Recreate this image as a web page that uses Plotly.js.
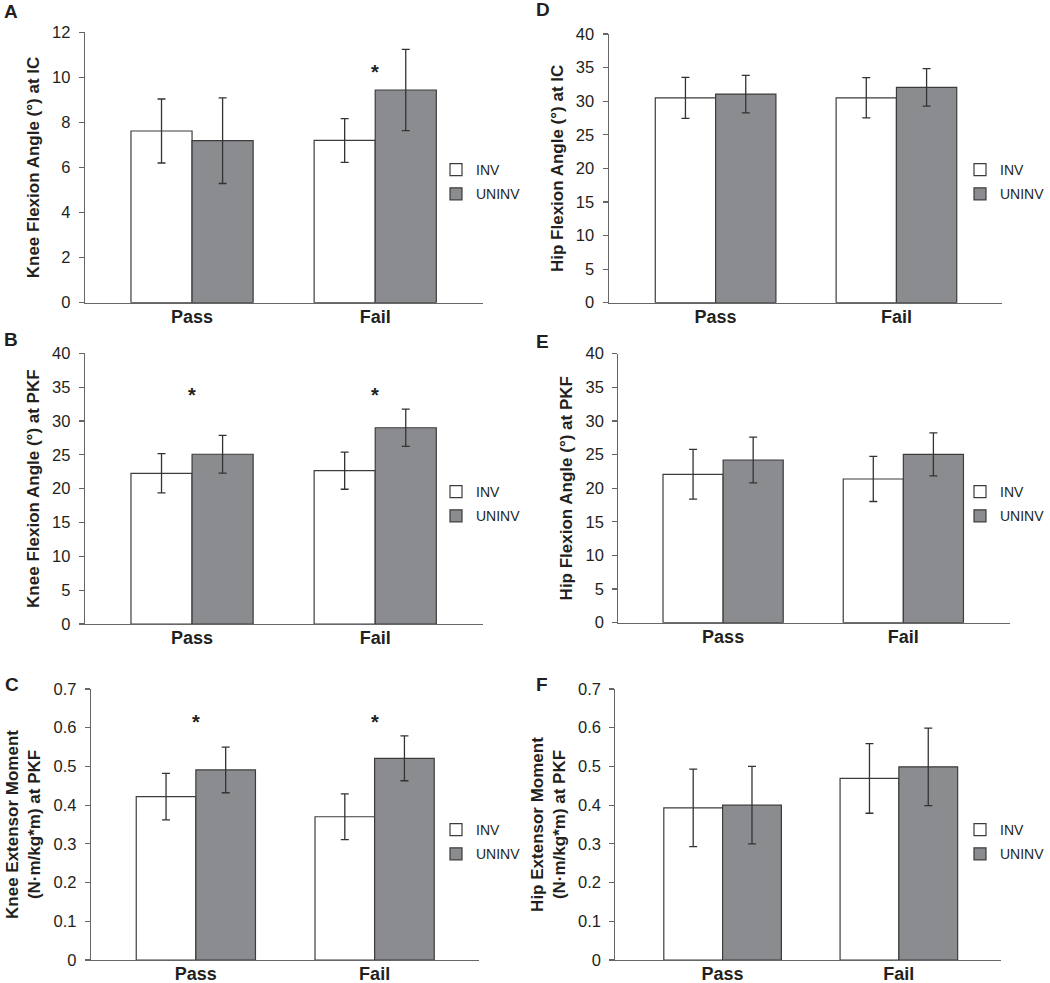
<!DOCTYPE html>
<html><head><meta charset="utf-8">
<script src="https://cdn.plot.ly/plotly-3.0.1.min.js"></script>
<style>html,body{margin:0;padding:0;background:#fff}</style>
</head><body><div id="chart" style="width:1050px;height:983px"></div>
<script>
// ---- data ----
const groups = ['Pass', 'Fail'];
const seriesNames = ['INV', 'UNINV'];

// A: Knee flexion angle at IC
const kneeIC_INV = [7.62, 7.2];
const kneeIC_INV_sd = [1.42, 0.97];
const kneeIC_UNINV = [7.19, 9.44];
const kneeIC_UNINV_sd = [1.9, 1.8];
const kneeIC_sig = ['Fail'];

// B: Knee flexion angle at PKF
const kneePKF_INV = [22.27, 22.66];
const kneePKF_INV_sd = [2.9, 2.75];
const kneePKF_UNINV = [25.08, 29.0];
const kneePKF_UNINV_sd = [2.8, 2.75];
const kneePKF_sig = ['Pass', 'Fail'];

// C: Knee extensor moment at PKF
const kneeMom_INV = [0.422, 0.370];
const kneeMom_INV_sd = [0.060, 0.059];
const kneeMom_UNINV = [0.491, 0.521];
const kneeMom_UNINV_sd = [0.059, 0.058];
const kneeMom_sig = ['Pass', 'Fail'];

// D: Hip flexion angle at IC
const hipIC_INV = [30.5, 30.5];
const hipIC_INV_sd = [3.05, 3.0];
const hipIC_UNINV = [31.05, 32.05];
const hipIC_UNINV_sd = [2.8, 2.8];
const hipIC_sig = [];

// E: Hip flexion angle at PKF
const hipPKF_INV = [22.07, 21.37];
const hipPKF_INV_sd = [3.7, 3.35];
const hipPKF_UNINV = [24.19, 25.04];
const hipPKF_UNINV_sd = [3.4, 3.2];
const hipPKF_sig = [];

// F: Hip extensor moment at PKF
const hipMom_INV = [0.393, 0.469];
const hipMom_INV_sd = [0.10, 0.09];
const hipMom_UNINV = [0.40, 0.499];
const hipMom_UNINV_sd = [0.10, 0.10];
const hipMom_sig = [];

const yTitles = [
  'Knee Flexion Angle (°) at IC',
  'Knee Flexion Angle (°) at PKF',
  'Knee Extensor Moment<br>(N·m/kg*m) at PKF',
  'Hip Flexion Angle (°) at IC',
  'Hip Flexion Angle (°) at PKF',
  'Hip Extensor Moment<br>(N·m/kg*m) at PKF'
];
const panelLetters = ['A', 'B', 'C', 'D', 'E', 'F'];
const yMax = [12, 40, 0.7, 40, 40, 0.7];
const yStep = [2, 5, 0.1, 5, 5, 0.1];

// ---- layout (pixel geometry) ----
const W = 1050, H = 983;
const FONT = 'Liberation Sans, Arial, Helvetica, sans-serif';
const geom = [
  {xd:[85,483],   yd:[302.7,32.3], xr:[-0.585,1.586], leg:[436,182], let:[2,11],  sigY:10.25, so:8},
  {xd:[85,483],   yd:[624,353.3],  xr:[-0.585,1.586], leg:[436,504], let:[2,340], sigY:33.9, so:8},
  {xd:[91,479.3], yd:[960,689],    xr:[-0.587,1.583], leg:[436,842], let:[3,684], sigY:0.615, so:8},
  {xd:[609.3,1003], yd:[302.7,34], xr:[-0.591,1.584], leg:[961,182], let:[535,9], sigY:0, so:8},
  {xd:[619,1011], yd:[622.7,353.7], xr:[-0.581,1.592], leg:[961,504], let:[535,341], sigY:0, so:8},
  {xd:[616,1001.7], yd:[960,689],  xr:[-0.608,1.578], leg:[961,842], let:[535,684], sigY:0, so:8}
];
const data = [
  [kneeIC_INV, kneeIC_INV_sd, kneeIC_UNINV, kneeIC_UNINV_sd, kneeIC_sig],
  [kneePKF_INV, kneePKF_INV_sd, kneePKF_UNINV, kneePKF_UNINV_sd, kneePKF_sig],
  [kneeMom_INV, kneeMom_INV_sd, kneeMom_UNINV, kneeMom_UNINV_sd, kneeMom_sig],
  [hipIC_INV, hipIC_INV_sd, hipIC_UNINV, hipIC_UNINV_sd, hipIC_sig],
  [hipPKF_INV, hipPKF_INV_sd, hipPKF_UNINV, hipPKF_UNINV_sd, hipPKF_sig],
  [hipMom_INV, hipMom_INV_sd, hipMom_UNINV, hipMom_UNINV_sd, hipMom_sig]
];

const traces = [];
const layout = {
  width: W, height: H,
  margin: {l:0, r:0, t:0, b:0},
  paper_bgcolor: '#fff', plot_bgcolor: '#fff',
  barmode: 'group', bargap: 0.333, bargroupgap: 0,
  font: {family: FONT, color: '#231f20'},
  showlegend: true,
  annotations: []
};
const fills = ['#ffffff', '#8b8c8f'];
const AX = '#666666';

for (let i = 0; i < 6; i++) {
  const g = geom[i];
  const n = i === 0 ? '' : String(i + 1);
  const xid = 'x' + n, yid = 'y' + n;
  const legId = 'legend' + n;
  const d = data[i];
  [[d[0], d[1]], [d[2], d[3]]].forEach((s, k) => {
    traces.push({
      type: 'bar', name: seriesNames[k], x: groups, y: s[0],
      xaxis: xid, yaxis: yid, legend: legId, legendgroup: 'p' + i + 's' + k,
      marker: {color: fills[k], line: {color: '#3c3c3c', width: 1.2}},
      error_y: {type: 'data', array: s[1], visible: true, color: '#333333', thickness: 1.3, width: 4},
      hoverinfo: 'x+y+name'
    });
  });
  layout['xaxis' + n] = {
    domain: [g.xd[0] / W, g.xd[1] / W], anchor: yid,
    type: 'category', range: g.xr,
    showline: true, linecolor: AX, linewidth: 1.2,
    ticks: '', showgrid: false, zeroline: false,
    ticklabelstandoff: -3,
    tickfont: {family: FONT, size: 18, weight: 700, color: '#231f20'},
    fixedrange: true
  };
  layout['yaxis' + n] = {
    domain: [1 - g.yd[0] / H, 1 - g.yd[1] / H], anchor: xid,
    range: [0, yMax[i]], tick0: 0, dtick: yStep[i],
    showline: true, linecolor: AX, linewidth: 1.2,
    ticks: 'outside', ticklen: 5, tickcolor: AX, tickwidth: 1.2,
    ticklabelstandoff: 5,
    showgrid: false, zeroline: false,
    tickfont: {family: FONT, size: 16.5, color: '#231f20'},
    title: {text: yTitles[i], standoff: g.so, font: {family: FONT, size: 17, weight: 700, color: '#231f20'}},
    fixedrange: true
  };
  layout[legId] = {
    x: g.leg[0] / W, xanchor: 'left', y: 1 - g.leg[1] / H, yanchor: 'middle',
    bgcolor: 'rgba(0,0,0,0)', borderwidth: 0, tracegroupgap: 3,
    font: {family: FONT, size: 14, color: '#231f20'}
  };
  layout.annotations.push({
    xref: 'paper', yref: 'paper', x: g.let[0] / W, y: 1 - g.let[1] / H,
    xanchor: 'left', yanchor: 'middle', showarrow: false,
    text: panelLetters[i], font: {family: FONT, size: 19, weight: 700, color: '#231f20'}
  });
  d[4].forEach(grp => {
    layout.annotations.push({
      xref: xid, yref: yid, x: grp, y: g.sigY, showarrow: false,
      text: '*', font: {family: FONT, size: 20, weight: 700, color: '#231f20'}
    });
  });
}

Plotly.newPlot('chart', traces, layout, {displayModeBar: false, staticPlot: true});
</script>
</body></html>
